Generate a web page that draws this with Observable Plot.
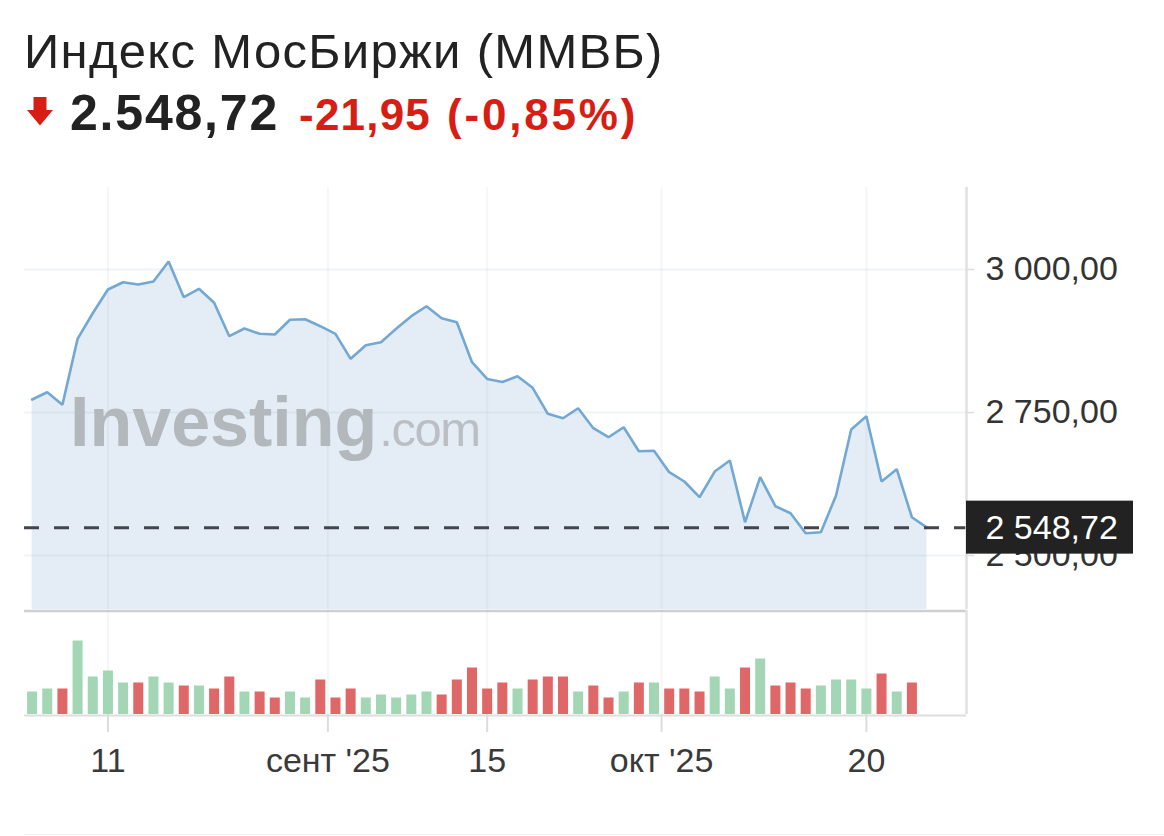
<!DOCTYPE html>
<html>
<head>
<meta charset="utf-8">
<script src="https://cdn.jsdelivr.net/npm/d3@7"></script>
<script src="https://cdn.jsdelivr.net/npm/@observablehq/plot@0.6"></script>
<style>
  html, body { margin: 0; padding: 0; background: #fff; }
  body { font-family: "Liberation Sans", Arial, Helvetica, sans-serif; }
  #wrap { position: relative; width: 1164px; height: 836px; overflow: hidden; background: #fff; }
  #title { position: absolute; left: 24px; top: 27px; font-size: 49px; line-height: 48px; color: #222; white-space: nowrap; letter-spacing: 1.3px; }
  #quote { position: absolute; left: 27px; top: 88px; height: 50px; display: flex; align-items: baseline; white-space: nowrap; }
  #quote .last { font-size: 50px; line-height: 50px; font-weight: bold; color: #222; letter-spacing: 1.8px; margin-left: 16px; }
  #quote .chg { font-size: 44px; line-height: 50px; font-weight: bold; color: #d81e14; letter-spacing: 1.2px; margin-left: 20px; }
  #quote .pct { font-size: 44px; line-height: 50px; font-weight: bold; color: #d81e14; letter-spacing: 2.8px; margin-left: 16px; }
  #arrow { position: absolute; left: 27px; top: 97px; }
  #wm { position: absolute; left: 70px; top: 387px; line-height: 70px; white-space: nowrap; pointer-events: none; }
  #wm .a { font-size: 70px; font-weight: bold; color: #b3b8bd; letter-spacing: 0px; }
  #wm .b { font-size: 49px; font-weight: normal; color: #bbbfc3; letter-spacing: -1.5px; margin-left: 2px; }
  #price { position: absolute; left: 0; top: 181px; }
  #volume { position: absolute; left: 0; top: 610px; }
  #bottomline { position: absolute; left: 24px; top: 834px; width: 1140px; height: 1px; background: #f2f2f2; }
</style>
</head>
<body>
<div id="wrap">
  <div id="title">Индекс МосБиржи (ММВБ)</div>
  <svg id="arrow" width="26" height="29" viewBox="0 0 26 29"><polygon points="6.5,0 19.5,0 19.5,13 26,13 13,28.5 0,13 6.5,13" fill="#d81e14"/></svg>
  <div id="quote"><span class="last" style="margin-left:43px">2.548,72</span><span class="chg">-21,95</span><span class="pct">(-0,85%)</span></div>
  <div id="price"></div>
  <div id="volume"></div>
  <div id="wm"><span class="a">Investing</span><span class="b">.com</span></div>
  <div id="bottomline"></div>
</div>
<script>
// ---- data ----
const closes = [
  2772.7, 2785.5, 2763.5, 2878.8, 2923.6, 2965.0, 2977.8, 2973.8, 2979.0, 3014.0,
  2951.6, 2966.3, 2941.8, 2883.4, 2896.9, 2887.6, 2886.4, 2912.1, 2913.1, 2900.9,
  2887.6, 2843.9, 2867.7, 2872.9, 2896.3, 2918.4, 2935.8, 2914.9, 2907.9, 2837.9,
  2808.6, 2803.3, 2813.5, 2793.2, 2747.7, 2740.0, 2757.5, 2722.5, 2706.8, 2724.3,
  2682.3, 2683.1, 2645.6, 2629.4, 2601.9, 2646.8, 2666.1, 2558.2, 2636.9, 2586.2,
  2573.9, 2539.0, 2540.7, 2604.9, 2720.3, 2743.5, 2629.4, 2650.9, 2566.9, 2548.72
];
const volumes = [
  45, 51, 51, 147, 75, 87, 63, 63, 75, 63,
  57, 57, 51, 75, 45, 45, 33, 45, 33, 69,
  33, 51, 33, 39, 33, 39, 45, 39, 69, 93,
  51, 63, 51, 69, 75, 75, 45, 57, 33, 45,
  63, 63, 51, 51, 45, 75, 51, 93, 111, 57,
  63, 51, 57, 69, 69, 51, 81, 45, 63, null
];
const xTickPositions = [5, 19.5, 30, 41.5, 55];
const xTickLabels = ["11", "сент '25", "15", "окт '25", "20"];
const yTicks = [2500, 2750, 3000];

// ---- derived table ----
const rows = closes.map((c, i) => ({
  i, close: c, vol: volumes[i],
  up: i === 0 ? true : c >= closes[i - 1]
}));
const bars = rows.filter(d => d.vol != null);
const last = closes[closes.length - 1];

const loc = d3.formatLocale({decimal: ",", thousands: " ", grouping: [3], currency: ["", ""]});
const fmt = loc.format(",.2f");

const FONT = '"Liberation Sans", Arial, Helvetica, sans-serif';
const xDomain = [-0.5, 61.6];
const yDomain = [2405.6, 3143.4];
const W = 1164, ML = 24, MR = 198;

const price = Plot.plot({
  width: W, height: 433,
  marginTop: 6, marginBottom: 5, marginLeft: ML, marginRight: MR,
  x: {domain: xDomain, axis: null},
  y: {domain: yDomain, axis: null},
  style: {background: "transparent", fontFamily: FONT, overflow: "visible"},
  marks: [
    Plot.areaY(rows, {x: "i", y1: yDomain[0], y2: "close", fill: "#e4edf5", curve: "linear"}),
    Plot.ruleY(yTicks, {stroke: "#9aa7b5", strokeOpacity: 0.14, strokeWidth: 2}),
    Plot.ruleX(xTickPositions, {stroke: "#9aa7b5", strokeOpacity: 0.1, strokeWidth: 2}),
    Plot.lineY(rows, {x: "i", y: "close", stroke: "#72a8d3", strokeWidth: 2.6, strokeLinejoin: "miter"}),
    Plot.ruleY([last], {stroke: "#41464c", strokeWidth: 3, strokeDasharray: "15,15"}),
    Plot.ruleY([yDomain[0]], {stroke: "#cfcfcf", strokeWidth: 2.5, dy: 1.5}),
    Plot.ruleX([xDomain[1]], {stroke: "#e0e0e0", strokeWidth: 2.5}),
    Plot.axisY({
      anchor: "right", ticks: yTicks, tickFormat: fmt,
      tickSize: 7, tickPadding: 12, fontSize: 34,
      stroke: "#dddddd", strokeWidth: 1.5, fill: "#333", label: null,
      style: {letterSpacing: "1px"}
    }),
    Plot.rect([{x: xDomain[1], y: last}], {
      x1: "x", x2: "x", y1: "y", y2: "y",
      insetLeft: 0, insetRight: -167, insetTop: -26.5, insetBottom: -26.5,
      fill: "#222"
    }),
    Plot.text([{x: xDomain[1], y: last}], {
      x: "x", y: "y", text: d => fmt(d.y), textAnchor: "start",
      dx: 19, fontSize: 34, fill: "#fff", style: {letterSpacing: "1px"}
    })
  ]
});
document.getElementById("price").appendChild(price);

const volume = Plot.plot({
  width: W, height: 226,
  marginTop: 0, marginBottom: 122, marginLeft: ML, marginRight: MR,
  x: {domain: xDomain, axis: null},
  y: {domain: [0, 208], axis: null},
  style: {background: "transparent", fontFamily: FONT, overflow: "visible"},
  marks: [
    Plot.ruleX(xTickPositions, {stroke: "#9aa7b5", strokeOpacity: 0.1, strokeWidth: 2}),
    Plot.ruleX(bars, {x: "i", y1: 0, y2: "vol", strokeWidth: 10, stroke: d => d.up ? "#a3d6b5" : "#e06767"}),
    Plot.ruleY([0], {stroke: "#dedede", strokeWidth: 2, dy: 1}),
    Plot.ruleX([xDomain[1]], {stroke: "#e0e0e0", strokeWidth: 2.5}),
    Plot.axisX({
      ticks: xTickPositions,
      tickFormat: v => xTickLabels[xTickPositions.indexOf(v)],
      tickSize: 18, tickPadding: 15, fontSize: 34,
      stroke: "#dcdcdc", strokeWidth: 2, fill: "#3a3a3a", label: null
    })
  ]
});
document.getElementById("volume").appendChild(volume);
</script>
</body>
</html>
